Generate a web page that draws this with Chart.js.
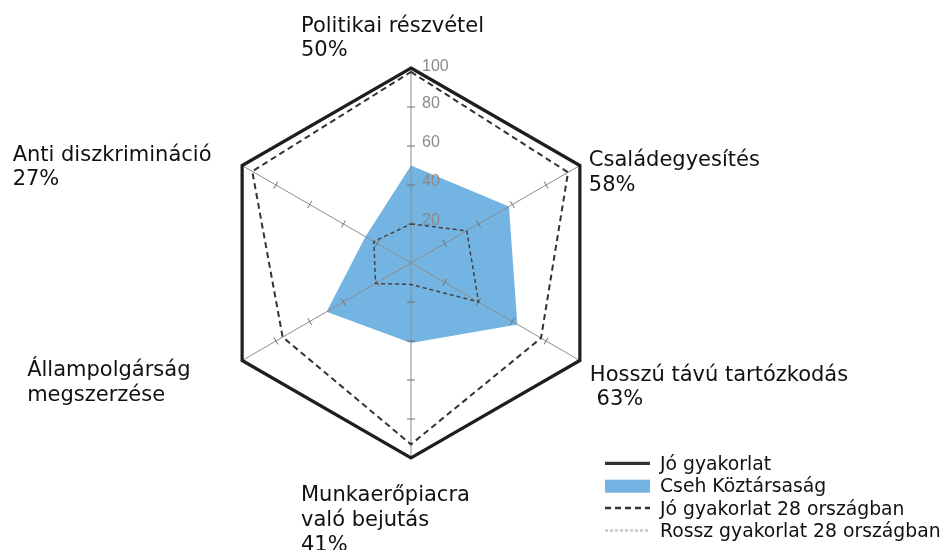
<!DOCTYPE html>
<html>
<head>
<meta charset="utf-8">
<script src="https://cdn.jsdelivr.net/npm/chart.js@4.4.0/dist/chart.umd.min.js"></script>
<style>
html, body { margin: 0; padding: 0; background: #fff; }
#doboz { width: 944px; height: 550px; position: relative; }
</style>
</head>
<body>
<div id="doboz"><canvas id="halo" width="944" height="550"></canvas></div>
<script>
// tengelyek (óramutató járásával, felülről)
const kategoriak = ['Politikai részvétel', 'Családegyesítés', 'Hosszú távú tartózkodás',
    'Munkaerőpiacra való bejutás', 'Állampolgárság megszerzése', 'Anti diszkrimináció'];
const cimkeSorok = [
    ['Politikai részvétel', '50%'],
    ['Családegyesítés', '58%'],
    ['Hosszú távú tartózkodás', ' 63%'],
    ['Munkaerőpiacra', 'való bejutás', '41%'],
    ['Állampolgárság', 'megszerzése'],
    ['Anti diszkrimináció', '27%']
];
const joGyakorlat = [100, 100, 100, 100, 100, 100];
const csehErtekek = [50, 58, 63, 41, 50, 27];
const jo28 = [98, 93, 77, 93, 76, 94];
const rossz28 = [20, 33, 40, 11, 21, 22];
const skalaJelek = [20, 40, 60, 80, 100];

// a címkék helye a csúcshoz képest (bal szél, első sor alapvonala)
const cimkeEltolas = [[-110, -36.5], [9, 0.5], [10, 20], [-110, 43], [-215, 15.5], [-229.5, -5]];

const betu = '"DejaVu Sans", Verdana, sans-serif';

function kuller(chart, ctx) {
    const r = chart.scales.r;
    const n = chart.data.labels.length;
    ctx.save();
    ctx.lineWidth = 1;
    for (let i = 0; i < n; i++) {
        const kozep = r.getPointPositionForValue(i, 0);
        const veg = r.getPointPositionForValue(i, 100);
        ctx.strokeStyle = '#8c8c8c';
        ctx.beginPath();
        ctx.moveTo(kozep.x, kozep.y);
        ctx.lineTo(veg.x, veg.y);
        ctx.stroke();
        // kis jelölők a küllőn
        const dx = veg.x - kozep.x, dy = veg.y - kozep.y;
        const hossz = Math.sqrt(dx * dx + dy * dy);
        const px = -dy / hossz * 4, py = dx / hossz * 4;
        ctx.strokeStyle = '#6e6e6e';
        skalaJelek.slice(0, 4).forEach(v => {
            const p = r.getPointPositionForValue(i, v);
            ctx.beginPath();
            ctx.moveTo(p.x - px, p.y - py);
            ctx.lineTo(p.x + px, p.y + py);
            ctx.stroke();
        });
    }
    ctx.restore();
}

const sajatRajz = {
    id: 'sajatRajz',
    afterDatasetDraw(chart, args) {
        if (args.index === 1) {
            kuller(chart, chart.ctx);
        }
    },
    afterDraw(chart) {
        const ctx = chart.ctx;
        const r = chart.scales.r;
        ctx.save();
        // skála feliratok
        ctx.fillStyle = '#8a8a8a';
        ctx.font = '16px "Liberation Sans", Arial, sans-serif';
        ctx.textAlign = 'left';
        ctx.textBaseline = 'middle';
        skalaJelek.forEach(v => {
            const p = r.getPointPositionForValue(0, v);
            ctx.fillText(String(v), p.x + 11, p.y - (v === 100 ? 1.5 : 3));
        });

        // tengely címkék
        ctx.textBaseline = 'alphabetic';
        ctx.fillStyle = '#111';
        ctx.font = '21px ' + betu;
        cimkeSorok.forEach((sorok, i) => {
            const p = r.getPointPositionForValue(i, 100);
            sorok.forEach((s, j) => {
                ctx.fillText(s, p.x + cimkeEltolas[i][0], p.y + cimkeEltolas[i][1] + j * 24.8);
            });
        });

        // jelmagyarázat
        ctx.font = '18.8px ' + betu;
        chart.data.datasets.forEach((ds, i) => {
            const y = 463.3 + i * 22.4;
            if (ds.fill) {
                ctx.fillStyle = ds.backgroundColor;
                ctx.fillRect(605, y - 6, 45, 13);
            } else {
                ctx.beginPath();
                ctx.strokeStyle = ds.jelmagyarazatSzin || ds.borderColor;
                ctx.lineWidth = ds.jelmagyarazatVastag || ds.borderWidth;
                ctx.setLineDash(ds.jelmagyarazatSzaggatas || ds.borderDash || []);
                ctx.moveTo(605, y);
                ctx.lineTo(650, y);
                ctx.stroke();
                ctx.setLineDash([]);
            }
            ctx.fillStyle = '#111';
            ctx.fillText(ds.label, 660, y + 6.5);
        });
        ctx.restore();
    }
};

new Chart(document.getElementById('halo'), {
    type: 'radar',
    data: {
        labels: kategoriak,
        datasets: [
            {
                label: 'Jó gyakorlat',
                data: joGyakorlat,
                borderColor: '#1e1e1e',
                borderWidth: 3.2,
                fill: false,
                pointRadius: 0,
                order: 1,
                jelmagyarazatSzin: '#333'
            },
            {
                label: 'Cseh Köztársaság',
                data: csehErtekek,
                backgroundColor: 'rgb(116, 180, 227)',
                borderWidth: 0,
                fill: true,
                pointRadius: 0,
                order: 4
            },
            {
                label: 'Jó gyakorlat 28 országban',
                data: jo28,
                borderColor: '#333',
                borderWidth: 2,
                borderDash: [6, 4],
                fill: false,
                pointRadius: 0,
                order: 2,
                jelmagyarazatVastag: 2.5
            },
            {
                label: 'Rossz gyakorlat 28 országban',
                data: rossz28,
                borderColor: '#444',
                borderWidth: 1.5,
                borderDash: [4, 3],
                fill: false,
                pointRadius: 0,
                order: 3,
                jelmagyarazatSzin: '#c8c8c8',
                jelmagyarazatSzaggatas: [3, 2],
                jelmagyarazatVastag: 2.5
            }
        ]
    },
    options: {
        responsive: false,
        animation: false,
        layout: { padding: { left: 200, right: 322, top: 68, bottom: 92 } },
        elements: { line: { tension: 0 } },
        plugins: {
            legend: { display: false },
            tooltip: { enabled: false }
        },
        scales: {
            r: {
                min: 0,
                max: 100,
                ticks: { display: false, stepSize: 20 },
                grid: { display: false },
                angleLines: { display: false },
                pointLabels: { display: false }
            }
        }
    },
    plugins: [sajatRajz]
});
</script>
</body>
</html>
